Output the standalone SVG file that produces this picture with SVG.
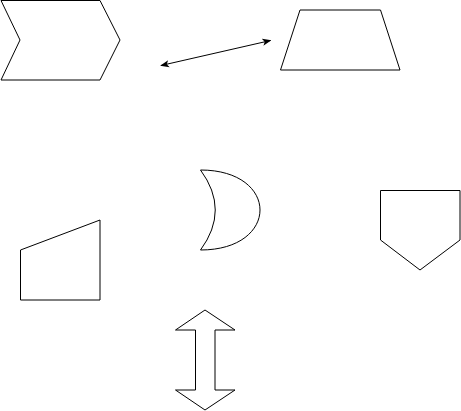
<svg xmlns="http://www.w3.org/2000/svg" width="461" height="411" viewBox="0 0 461 411">
<style>
.s{fill:#fff;stroke:#000;stroke-width:1;stroke-miterlimit:10}
.c{fill:none;stroke:#000;stroke-width:1}
</style>
<defs>
<marker id="ah" viewBox="0 0 10 10" refX="9" refY="5" markerWidth="9" markerHeight="9" markerUnits="userSpaceOnUse" orient="auto-start-reverse">
<path d="M0,1 L10,5 L0,9 L2.5,5 Z" fill="#000"/>
</marker>
</defs>
<rect width="461" height="411" fill="#fff"/>
<g id="chevron"><path class="s" d="M1,0.5 L100,0.5 L120,40 L100,80 L1,80 L20,40 Z"/></g>
<g id="trapezoid"><path class="s" d="M300,10 L380.5,10 L400,70 L280.5,70 Z"/></g>
<g id="moon"><path class="s" d="M200.5,170 C240,170 260,190 260,210 C260,230 240,250 200.5,250 Q230,210 200.5,170 Z"/></g>
<g id="pentagon"><path class="s" d="M380.5,190.5 L460,190.5 L460,240 L420,270 L380.5,240 Z"/></g>
<g id="manual-input"><path class="s" d="M20.5,250 L100,220 L100,300 L20.5,300 Z"/></g>
<g id="double-arrow"><path class="s" d="M205,310 L235,330 L215,330 L215,390 L235,390 L205,410 L175.5,390 L195.5,390 L195.5,330 L175.5,330 Z"/></g>
<g id="connectors"><line class="c" x1="161" y1="65.5" x2="270.5" y2="40.5" marker-start="url(#ah)" marker-end="url(#ah)"/></g>
</svg>
